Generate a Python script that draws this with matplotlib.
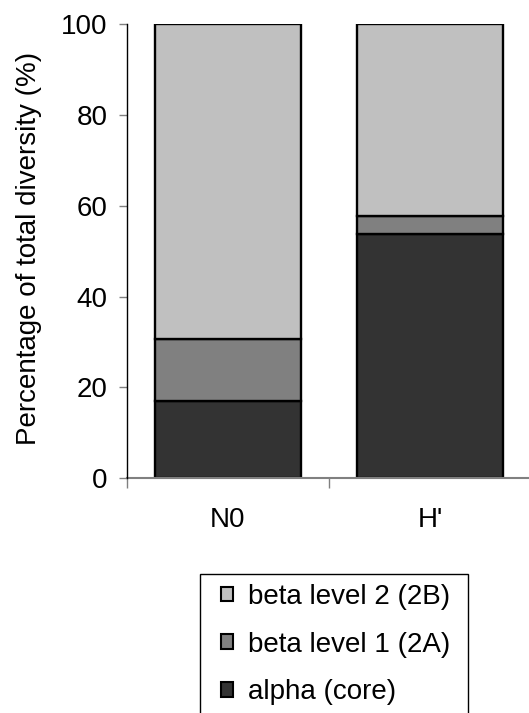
import matplotlib
matplotlib.use("Agg")
import matplotlib.pyplot as plt
from matplotlib.patches import Rectangle
import numpy as np

plt.rcParams['font.family'] = ['Liberation Sans', 'DejaVu Sans']

categories = ["N0", "H'"]
alpha_core = [17.1, 53.7]
beta_level1 = [13.6, 4.0]
beta_level2 = [69.3, 42.3]
series_names = ["alpha (core)", "beta level 1 (2A)", "beta level 2 (2B)"]
colors = ["#333333", "#808080", "#C0C0C0"]

W, H = 529, 713
fig = plt.figure(figsize=(W / 100, H / 100), dpi=100)
left_px, right_px, top_px, bottom_px = 126.7, 531.0, 24.0, 478.3
ax = fig.add_axes([left_px / W, 1 - bottom_px / H, (right_px - left_px) / W, (bottom_px - top_px) / H])

x = np.arange(len(categories))
bw = 0.72
bottoms = np.zeros(len(categories))
handles = []
for vals, name, c in zip([alpha_core, beta_level1, beta_level2], series_names, colors):
    b = ax.bar(x, vals, bw, bottom=bottoms, color=c, edgecolor='black', linewidth=1.7, label=name)
    handles.append(b)
    bottoms += np.array(vals)

ax.set_xlim(-0.5, 1.5)
ax.set_ylim(0, 100)
ax.set_yticks([0, 20, 40, 60, 80, 100])
ax.tick_params(axis='y', direction='out', length=6, width=1, color='#808080', labelsize=20, pad=8)
ax.set_xticks([-0.5, 0.5, 1.5])
ax.set_xticklabels([])
ax.tick_params(axis='x', which='major', direction='out', length=7, width=1, color='#808080')
ax.set_xticks(x, minor=True)
ax.set_xticklabels(categories, minor=True, fontsize=20)
ax.tick_params(axis='x', which='minor', length=0, pad=21)

for s in ['top', 'right']:
    ax.spines[s].set_visible(False)
ax.spines['left'].set_color('black')
ax.spines['left'].set_linewidth(1)
ax.spines['bottom'].set_color('#808080')
ax.spines['bottom'].set_linewidth(1.5)
ax.spines['left'].set_zorder(5)

fig.text(29 / W, 1 - 248 / H, "Percentage of total diversity (%)", rotation=90,
         ha='center', va='center', fontsize=20)

# legend frame (extends past bottom edge of the figure)
fig.patches.append(Rectangle((200 / W, -0.05), (468 - 200) / W, (1 - 574 / H) + 0.05,
                             transform=fig.transFigure, facecolor='white',
                             edgecolor='black', linewidth=1, zorder=1))

leg = fig.legend(handles[::-1], series_names[::-1], loc='upper left',
                 bbox_to_anchor=(221 / W, 1 - 584 / H), fontsize=20,
                 frameon=False,
                 handlelength=0.43, handleheight=0.43, handletextpad=0.54,
                 borderpad=0, labelspacing=0.78, borderaxespad=0)
leg.set_zorder(3)
for p in leg.get_patches():
    p.set_linewidth(1.5)

fig.savefig("out.png", dpi=100)
